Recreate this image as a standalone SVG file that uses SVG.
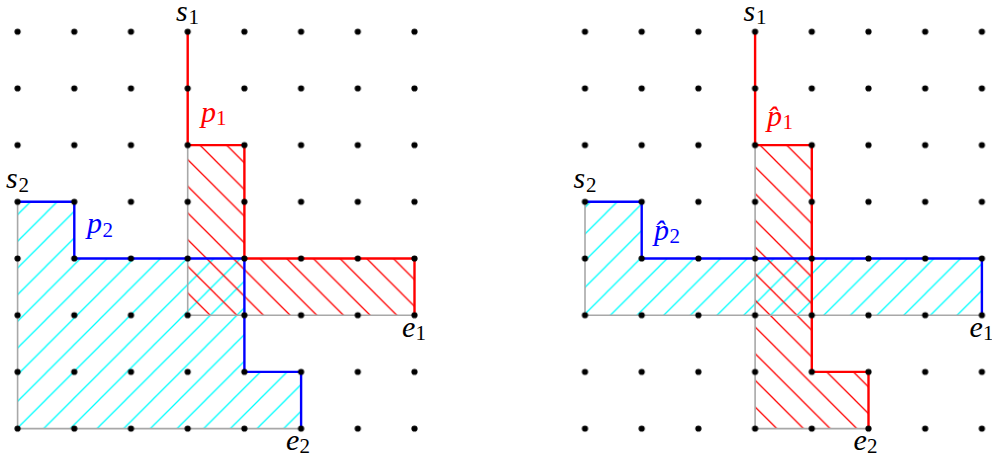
<svg xmlns="http://www.w3.org/2000/svg" xmlns:xlink="http://www.w3.org/1999/xlink" width="992" height="459" viewBox="0 0 992 459">
<style>
.lbl{font-family:"Liberation Serif","Times New Roman",serif;font-style:italic;font-size:30px;fill:#000}
.sub{font-style:normal;font-size:21px}
.red{fill:#ff0000}
.blue{fill:#0000ff}
.gray{fill:none;stroke:#a8a8a8;stroke-width:1.6}
.pr{fill:none;stroke:#ff0000;stroke-width:2.4;stroke-linejoin:miter}
.pb{fill:none;stroke:#0000ff;stroke-width:2.4;stroke-linejoin:miter}
.hr{fill:url(#hatchRed);stroke:none}
.hc{fill:url(#hatchCyan);stroke:none}
</style>
<defs>
<pattern id="hatchCyan" patternUnits="userSpaceOnUse" x="18.9" y="0" width="26.67" height="26.67">
<path d="M0,26.67 L26.67,0 M-3,3 L3,-3 M23.67,29.67 L29.67,23.67" stroke="#00ffff" stroke-width="1.3" fill="none"/>
</pattern>
<pattern id="hatchRed" patternUnits="userSpaceOnUse" x="1.5" y="0" width="26.67" height="26.67">
<path d="M0,0 L26.67,26.67 M-3,23.67 L3,29.67 M23.67,-3 L29.67,3" stroke="#ff0000" stroke-width="1.3" fill="none"/>
</pattern>
<pattern id="dots" patternUnits="userSpaceOnUse" x="-10.75" y="3.35" width="56.7" height="56.7">
<circle cx="28.35" cy="28.35" r="3.1" fill="#000"/>
</pattern>
</defs>

<g id="left-panel">
<g id="left-regions">
<polygon id="left-region-p2" class="hc" points="17.6,201.8 74.3,201.8 74.3,258.5 244.4,258.5 244.4,371.9 301.1,371.9 301.1,428.6 17.6,428.6"/>
<polygon id="left-region-p1" class="hr" points="187.7,145.1 244.4,145.1 244.4,258.5 414.5,258.5 414.5,315.2 187.7,315.2"/>
<path class="gray" d="M17.6,201.8 V428.6 H301.1"/>
<path class="gray" d="M187.7,145.1 V315.2 H414.5"/>
</g>
<g id="left-connectors">
<path id="left-p1" class="pr" d="M187.7,31.7 V145.1 H244.4 V258.5 H414.5 V315.2"/>
<path id="left-p2" class="pb" d="M17.6,201.8 H74.3 V258.5 H244.4 V371.9 H301.1 V428.6"/>
</g>
<rect id="left-grid" x="-10.75" y="3.35" width="453.6" height="453.6" fill="url(#dots)"/>
<g id="left-labels">
<g id="left-s1"><text class="lbl" x="176" y="21">s<tspan class="sub" x="188.5" y="23.5">1</tspan></text></g>
<g id="left-p1-label"><text class="lbl red" x="201" y="122">p<tspan class="sub" x="216" y="125">1</tspan></text></g>
<g id="left-s2"><text class="lbl" x="6" y="188">s<tspan class="sub" x="18.5" y="191.5">2</tspan></text></g>
<g id="left-p2-label"><text class="lbl blue" x="87" y="233">p<tspan class="sub" x="102.5" y="237">2</tspan></text></g>
<g id="left-e1"><text class="lbl" x="402" y="337">e<tspan class="sub" x="415.5" y="340">1</tspan></text></g>
<g id="left-e2"><text class="lbl" x="286" y="450">e<tspan class="sub" x="299.5" y="453">2</tspan></text></g>
</g>
</g>

<g id="right-panel">
<g id="right-regions">
<polygon id="right-region-p2" class="hc" points="585,201.8 641.7,201.8 641.7,258.5 981.9,258.5 981.9,315.2 585,315.2"/>
<polygon id="right-region-p1" class="hr" points="755.1,145.1 811.8,145.1 811.8,371.9 868.5,371.9 868.5,428.6 755.1,428.6"/>
<path class="gray" d="M585,201.8 V315.2 H981.9"/>
<path class="gray" d="M755.1,145.1 V428.6 H868.5"/>
</g>
<g id="right-connectors">
<path id="right-p2" class="pb" d="M585,201.8 H641.7 V258.5 H981.9 V315.2"/>
<path id="right-p1" class="pr" d="M755.1,31.7 V145.1 H811.8 V371.9 H868.5 V428.6"/>
</g>
<g transform="translate(567.4,0)">
<rect id="right-grid" x="-10.75" y="3.35" width="453.6" height="453.6" fill="url(#dots)"/>
</g>
<g id="right-labels">
<g id="right-s1"><text class="lbl" x="743.4" y="21">s<tspan class="sub" x="755.9" y="23.5">1</tspan></text></g>
<g id="right-p1-label"><text class="lbl red" x="767" y="126">p̂<tspan class="sub" x="782.5" y="129">1</tspan></text></g>
<g id="right-s2"><text class="lbl" x="573.4" y="188">s<tspan class="sub" x="585.9" y="191.5">2</tspan></text></g>
<g id="right-p2-label"><text class="lbl blue" x="654" y="240">p̂<tspan class="sub" x="669.5" y="243">2</tspan></text></g>
<g id="right-e1"><text class="lbl" x="969.4" y="337">e<tspan class="sub" x="982.9" y="340">1</tspan></text></g>
<g id="right-e2"><text class="lbl" x="853.4" y="450">e<tspan class="sub" x="866.9" y="453">2</tspan></text></g>
</g>
</g>
</svg>
